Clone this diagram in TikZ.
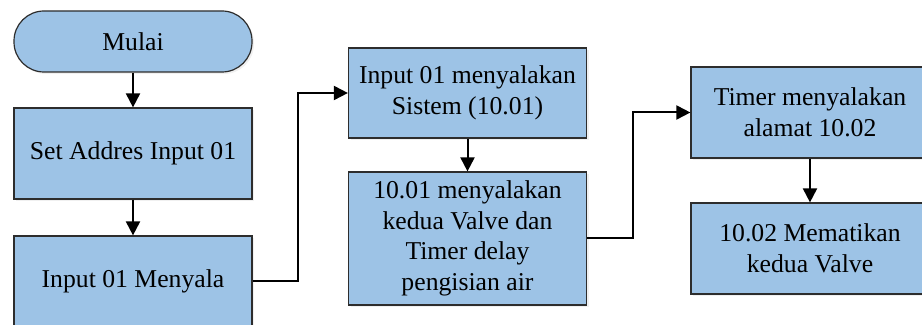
\documentclass[tikz,border=0pt]{standalone}
\usepackage{fontspec}
\setmainfont{Liberation Serif}
\usetikzlibrary{arrows.meta,shadows}
\definecolor{boxblue}{RGB}{157,195,230}
\definecolor{boxline}{RGB}{45,45,45}
\begin{document}
\begin{tikzpicture}[x=0.5pt,y=-0.5pt,
	proses/.style={draw=boxline,line width=0.6pt,fill=boxblue,minimum width=119pt,align=center,
		font=\fontsize{12.85}{15.25}\selectfont,drop shadow={opacity=0.12,shadow xshift=1pt,shadow yshift=-1pt}},
	mulaibox/.style={proses,rounded corners=15pt,minimum height=30.5pt},
	panah/.style={line width=1pt,-{Triangle[length=7pt,width=7pt]}}]
				\useasboundingbox (0,0) rectangle (922,325);
				\node[mulaibox] (mulai) at (133,41.5) {Mulai};
				\node[proses,minimum height=45.5pt] (setaddr) at (133,153.5) {Set Addres Input 01};
				\node[proses,minimum height=45.5pt] (menyala) at (133,281.5) {Input 01 Menyala};
				\node[proses,minimum height=45pt] (sistem) at (467.5,93) {Input 01 menyalakan\\Sistem (10.01)};
				\node[proses,minimum height=66.5pt] (valve) at (467.5,238.5) {10.01 menyalakan\\kedua Valve dan\\Timer delay\\pengisian air};
				\node[proses,minimum height=45.5pt] (timer) at (810,112.5) {Timer menyalakan\\alamat 10.02};
				\node[proses,minimum height=45.5pt] (mati) at (810,248.5) {10.02 Mematikan\\kedua Valve};
				\draw[panah] (mulai) -- (setaddr);
				\draw[panah] (setaddr) -- (menyala);
				\draw[panah] (menyala.east) -- ++(45,0) |- (sistem.west);
				\draw[panah] (sistem) -- (valve);
				\draw[panah] (valve.east) -- ++(46,0) |- (timer.west);
				\draw[panah] (timer) -- (mati);
			\end{tikzpicture}
\end{document}
